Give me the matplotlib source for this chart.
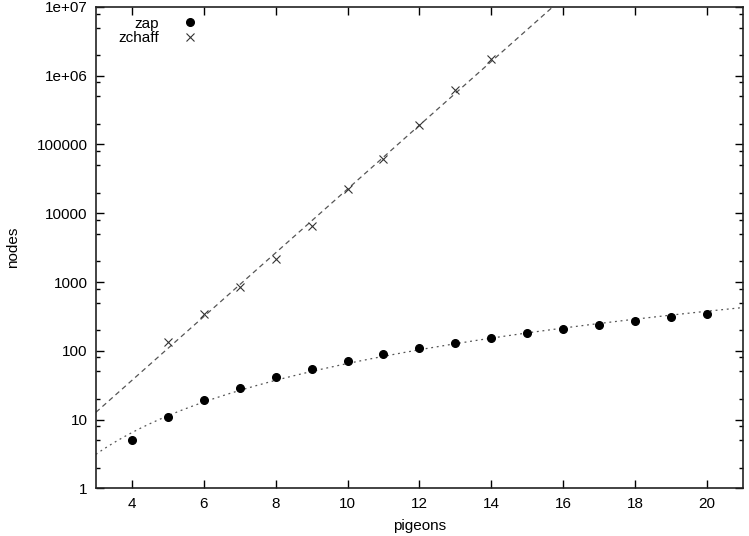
import matplotlib
matplotlib.use("Agg")
import matplotlib.pyplot as plt
import numpy as np
from matplotlib.ticker import LogLocator, NullFormatter, FixedLocator

plt.rcParams['font.family'] = ['Liberation Sans', 'DejaVu Sans']

# data
zap_x = [4, 5, 6, 7, 8, 9, 10, 11, 12, 13, 14, 15, 16, 17, 18, 19, 20]
zap_nodes = [5, 11, 19, 29, 41, 55, 71, 89, 109, 131, 155, 181, 209, 239, 271, 305, 341]
zchaff_x = [5, 6, 7, 8, 9, 10, 11, 12, 13, 14]
zchaff_nodes = [133, 344, 843, 2150, 6580, 22700, 62100, 194000, 612000, 1750000]

x_ticks = [4, 6, 8, 10, 12, 14, 16, 18, 20]
y_ticks = [1, 10, 100, 1000, 10000, 100000, 1000000, 10000000]
y_tick_labels = ['1', '10', '100', '1000', '10000', '100000', '1e+06', '1e+07']

fig = plt.figure(figsize=(7.49, 5.36), dpi=100)
ax = fig.add_axes([0.128, 0.089, 0.864, 0.898])

# fitted curves: exponential for zchaff, power law for zap
xs = np.linspace(3, 21, 300)
b_ch, a_ch = np.polyfit(zchaff_x, np.log10(zchaff_nodes), 1)
b_zp, a_zp = np.polyfit(np.log10(zap_x), np.log10(zap_nodes), 1)
ax.plot(xs, 10 ** (a_ch + b_ch * xs), color='#555555', lw=0.9, dashes=(4, 3))
ax.plot(xs, 10 ** (a_zp + b_zp * np.log10(xs)), color='#555555', lw=0.9, dashes=(1.5, 3))

ax.plot(zap_x, zap_nodes, 'o', color='black', ms=5.5, label='zap')
ax.plot(zchaff_x, zchaff_nodes, 'x', color='#333333', ms=6, mew=0.8, label='zchaff')

ax.set_yscale('log')
ax.set_xlim(3, 21)
ax.set_ylim(1, 1e7)
ax.xaxis.set_major_locator(FixedLocator(x_ticks))
ax.yaxis.set_major_locator(FixedLocator(y_ticks))
ax.set_yticklabels(y_tick_labels)
ax.yaxis.set_minor_locator(LogLocator(base=10, subs=[2, 5, 8]))
ax.yaxis.set_minor_formatter(NullFormatter())

ax.tick_params(which='both', direction='in', top=True, right=True, labelsize=11, width=1)
ax.tick_params(which='major', length=6, pad=6)
ax.tick_params(which='minor', length=3)
for s in ax.spines.values():
    s.set_linewidth(1.2)
    s.set_color('#222222')

ax.set_xlabel('pigeons', fontsize=11, labelpad=6)
ax.set_ylabel('nodes', fontsize=11, labelpad=12)

ax.legend(loc='upper left', bbox_to_anchor=(0.144, 0.989), bbox_transform=fig.transFigure,
          frameon=False, markerfirst=False, fontsize=11, handlelength=1.5,
          handletextpad=1.25, labelspacing=0.05, borderpad=0.2)

fig.savefig('out.png', dpi=100)
